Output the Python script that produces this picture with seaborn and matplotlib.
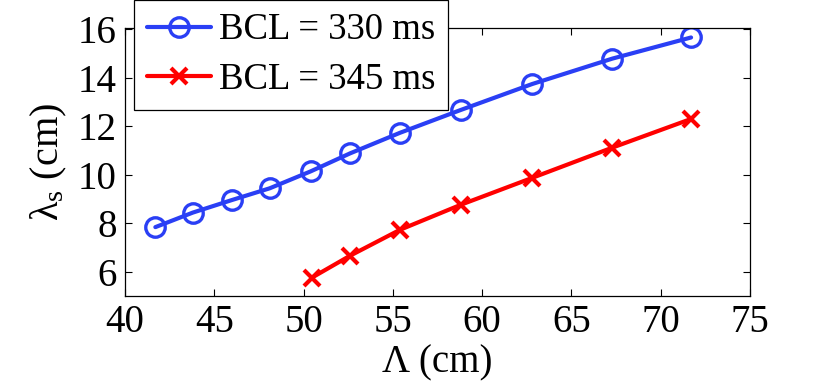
import matplotlib
matplotlib.use("Agg")
import matplotlib.pyplot as plt
import seaborn as sns
import pandas as pd

# Data
lam_330 = [41.7, 43.8, 46.0, 48.1, 50.4, 52.6, 55.4, 58.8, 62.8, 67.3, 71.7]
ls_330 = [7.84, 8.44, 8.96, 9.44, 10.14, 10.88, 11.73, 12.67, 13.74, 14.79, 15.66]
lam_345 = [50.45, 52.6, 55.4, 58.8, 62.8, 67.3, 71.7]
ls_345 = [5.75, 6.66, 7.73, 8.76, 9.87, 11.12, 12.30]
labels = ["BCL = 330 ms", "BCL = 345 ms"]
xticks = [40, 45, 50, 55, 60, 65, 70, 75]
yticks = [6, 8, 10, 12, 14, 16]

sns.set_style("ticks")
plt.rcParams["font.family"] = ["Liberation Serif", "DejaVu Serif"]
plt.rcParams["mathtext.fontset"] = "custom"
plt.rcParams["mathtext.rm"] = "Liberation Serif"
plt.rcParams["mathtext.it"] = "Liberation Serif:italic"
plt.rcParams["text.color"] = "black"
plt.rcParams["axes.labelcolor"] = "black"
plt.rcParams["xtick.color"] = "black"
plt.rcParams["ytick.color"] = "black"

fig = plt.figure(figsize=(8.3, 3.88), dpi=100)
ax = fig.add_axes([0.1506, 0.2371, 0.9036 - 0.1506, 0.9278 - 0.2371])

blue = "#2a3ff5"
red = "#ff0000"

df1 = pd.DataFrame({"x": lam_330, "y": ls_330})
df2 = pd.DataFrame({"x": lam_345, "y": ls_345})

sns.lineplot(data=df1, x="x", y="y", ax=ax, color=blue, lw=3, marker="o",
             markersize=14, markerfacecolor="none", markeredgecolor=blue,
             markeredgewidth=2.4, label=labels[0], sort=False)
sns.lineplot(data=df2, x="x", y="y", ax=ax, color=red, lw=3, marker="x",
             markersize=11, markeredgecolor=red, markeredgewidth=3,
             label=labels[1], sort=False)

ax.set_xlim(40, 75)
ax.set_ylim(5, 16.05)
ax.set_xticks(xticks)
ax.set_yticks(yticks)
ax.tick_params(axis="both", which="major", labelsize=28, length=5, width=0.8,
               top=True, right=True, direction="in", pad=6,
               colors="black", labelcolor="black")
for s in ax.spines.values():
    s.set_linewidth(0.9)
    s.set_color("black")

ax.set_xlabel("Λ (cm)", fontsize=28, labelpad=2, color="black")
ax.set_ylabel(r"λ$_{\mathrm{s}}$ (cm)", fontsize=29, labelpad=6, color="black")

leg = ax.legend(loc="upper left", bbox_to_anchor=(134 / 830, 1.0),
                bbox_transform=fig.transFigure, borderaxespad=0,
                fontsize=26.5, frameon=True, fancybox=False, framealpha=1,
                edgecolor="black", handlelength=1.75, handletextpad=0.2,
                borderpad=0.35, labelspacing=0.42)
leg.get_frame().set_linewidth(0.9)
for t in leg.get_texts():
    t.set_color("black")

fig.savefig("out.png", dpi=100)
